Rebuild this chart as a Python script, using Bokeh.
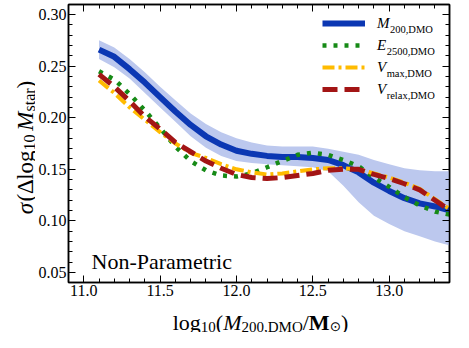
import math
from bokeh.plotting import figure
from bokeh.layouts import row, column
from bokeh.models import (Label, Legend, LegendItem, LinearAxis, Range1d,
                          SingleIntervalTicker, PrintfTickFormatter, CustomJSTickFormatter)
from bokeh.embed import file_html
from bokeh.resources import INLINE

# ---------------- data ----------------
x_mass = [11.1, 11.2, 11.3, 11.4, 11.5, 11.6, 11.7, 11.8, 11.9, 12.0, 12.1, 12.2,
          12.3, 12.4, 12.5, 12.6, 12.7, 12.8, 12.9, 13.0, 13.1, 13.2, 13.3, 13.4]

sigma_m200 = [0.266, 0.259, 0.247, 0.234, 0.220, 0.206, 0.193, 0.182, 0.174, 0.168, 0.165, 0.163,
              0.162, 0.162, 0.161, 0.159, 0.154, 0.147, 0.137, 0.129, 0.122, 0.117, 0.114, 0.110]
m200_upper = [0.275, 0.268, 0.257, 0.244, 0.230, 0.217, 0.204, 0.194, 0.186, 0.180, 0.176, 0.173,
              0.172, 0.172, 0.172, 0.170, 0.167, 0.164, 0.159, 0.155, 0.151, 0.149, 0.148, 0.148]
m200_lower = [0.257, 0.249, 0.238, 0.224, 0.210, 0.196, 0.182, 0.171, 0.163, 0.158, 0.156, 0.155,
              0.154, 0.153, 0.152, 0.148, 0.134, 0.118, 0.105, 0.097, 0.090, 0.085, 0.080, 0.076]
sigma_e2500 = [0.245, 0.237, 0.223, 0.207, 0.190, 0.172, 0.158, 0.149, 0.144, 0.143, 0.146, 0.152,
               0.158, 0.164, 0.166, 0.164, 0.159, 0.153, 0.142, 0.133, 0.123, 0.115, 0.109, 0.106]
sigma_vmax = [0.236, 0.224, 0.210, 0.198, 0.186, 0.175, 0.166, 0.161, 0.155, 0.150, 0.147, 0.145,
              0.146, 0.148, 0.150, 0.151, 0.151, 0.150, 0.146, 0.142, 0.137, 0.131, 0.121, 0.111]
sigma_vrelax = [0.242, 0.230, 0.216, 0.201, 0.189, 0.176, 0.167, 0.158, 0.151, 0.145, 0.142, 0.141,
                0.142, 0.144, 0.146, 0.149, 0.150, 0.150, 0.145, 0.141, 0.136, 0.130, 0.120, 0.110]

legend_main = ["M", "E", "V", "V"]
legend_sub = ["200,DMO", "2500,DMO", "max,DMO", "relax,DMO"]
panel_text = "Non-Parametric"

# ---------------- layout ----------------
YW = 35                      # width of the y-label strip
W, H = 418, 302              # main figure
ML, MR, MT, MB = 30, 4, 4, 20
FW = W - ML - MR             # 384
FH = H - MT - MB             # 278
XH = 30                      # height of the x-label strip
TOT_H = H + XH
IMG_FRAME_TOP = 12           # frame top in the picture (page margin 8 + MT)
SERIF = "Liberation Serif"

p = figure(width=W, height=H, x_range=Range1d(10.9, 13.395), y_range=Range1d(0.0403, 0.3097),
           output_backend="svg", toolbar_location=None,
           min_border_left=ML, min_border_right=MR, min_border_top=MT, min_border_bottom=MB)
p.grid.visible = False
p.background_fill_color = "white"
p.border_fill_color = "white"
p.outline_line_color = "black"
p.outline_line_width = 1.5

p.varea(x=x_mass, y1=m200_lower, y2=m200_upper, fill_color="#bcc8ee", fill_alpha=1.0)
r_m = p.line(x_mass, sigma_m200, line_color="#0b37b3", line_width=6)
r_e = p.line(x_mass, sigma_e2500, line_color="#168a16", line_width=4.5, line_dash="4 7")
r_v = p.line(x_mass, sigma_vmax, line_color="#ffbb00", line_width=4, line_dash="12 4 3 4")
r_r = p.line(x_mass, sigma_vrelax, line_color="#a31515", line_width=5, line_dash="15 7")


def style_axis(ax, labels=True):
    ax.axis_line_color = "black"
    ax.axis_line_width = 1.5
    ax.major_tick_in = 7
    ax.major_tick_out = 0
    ax.minor_tick_in = 4
    ax.minor_tick_out = 0
    ax.major_tick_line_color = "black"
    ax.minor_tick_line_color = "black"
    ax.axis_label = None
    if labels:
        ax.major_label_text_font = SERIF
        ax.major_label_text_font_size = "16px"
        ax.major_label_text_color = "black"
    else:
        ax.formatter = CustomJSTickFormatter(code="return ''")
        ax.major_label_standoff = 0


xt = lambda: SingleIntervalTicker(interval=0.5, num_minor_ticks=5)
yt = lambda: SingleIntervalTicker(interval=0.05, num_minor_ticks=5)

bx = p.below[0]
bx.ticker = xt()
bx.formatter = PrintfTickFormatter(format="%.1f")
style_axis(bx)
bx.major_label_standoff = 2
ly = p.left[0]
ly.ticker = yt()
ly.formatter = PrintfTickFormatter(format="%.2f")
style_axis(ly)
ly.major_label_standoff = 2

tx = LinearAxis(ticker=xt())
style_axis(tx, labels=False)
p.add_layout(tx, "above")
ry = LinearAxis(ticker=yt())
style_axis(ry, labels=False)
p.add_layout(ry, "right")

# ---------------- legend (samples from the renderers) ----------------
legend = Legend(items=[LegendItem(label=m, renderers=[r])
                       for m, r in zip(legend_main, (r_m, r_e, r_v, r_r))],
                location=(254, 182), orientation="vertical",
                glyph_width=43, glyph_height=22, label_height=22,
                spacing=0, padding=0, margin=0, label_standoff=12,
                border_line_color=None, background_fill_alpha=0.0,
                label_text_font=SERIF, label_text_font_size="15px",
                label_text_font_style="italic", label_text_color="black")
p.add_layout(legend)

# ---------------- rich text helpers ----------------
REG = {'0': .5, '1': .5, '2': .5, '3': .5, '4': .5, '5': .5, '6': .5, '7': .5, '8': .5, '9': .5,
       '.': .25, ',': .25, '(': .333, ')': .333, '/': .278, 'l': .278, 'o': .5, 'g': .5,
       'D': .722, 'M': .889, 'O': .722, 's': .389, 't': .278, 'a': .444, 'r': .333, 'm': .778,
       'x': .5, 'e': .444, 'Δ': .612, '⊙': .838}
ITA = {'M': .833, 'E': .611, 'V': .611, 'σ': .55}
BLD = {'M': .944}


def twidth(text, size, style):
    table = ITA if style == "italic" else (BLD if style == "bold" else REG)
    return sum(table.get(c, REG.get(c, .5)) for c in text) * size


def rich(fig, parts, x0, y0, vertical=False):
    pos = 0.0
    for part in parts:
        text, size, style, shift = part[:4]
        font = part[4] if len(part) > 4 else SERIF
        extra = part[5] if len(part) > 5 else 0.0
        kw = dict(text=text, x_units="screen", y_units="screen", text_font=font,
                  text_font_size=f"{size}px", text_font_style=style, text_color="black",
                  text_align="left", text_baseline="alphabetic")
        if vertical:
            lab = Label(x=x0 + shift, y=y0 + pos, angle=math.pi / 2, **kw)
        else:
            lab = Label(x=x0 + pos, y=y0 - shift, **kw)
        fig.add_layout(lab)
        pos += twidth(text, size, style) + extra
    return pos


def rich_width(parts):
    return sum(twidth(pt[0], pt[1], pt[2]) + (pt[5] if len(pt) > 5 else 0.0) for pt in parts)


def text_fig(w, h, left=0, right=0, top=0, bottom=0):
    f = figure(width=w, height=h, x_range=Range1d(0, 1), y_range=Range1d(0, 1),
               x_axis_type=None, y_axis_type=None, output_backend="svg",
               toolbar_location=None, min_border_left=left, min_border_right=right,
               min_border_top=top, min_border_bottom=bottom)
    f.outline_line_color = None
    f.background_fill_color = "white"
    f.border_fill_color = "white"
    return f


# legend subscripts (main letters come from the legend itself)
row_centers = [30.7, 52.7, 74.7, 96.7]   # picture px
for mtxt, stxt, yc in zip(legend_main, legend_sub, row_centers):
    base = FH - (yc - IMG_FRAME_TOP) - 4.6
    x_sub = 254 + 43 + 12 + twidth(mtxt, 15, "italic")
    rich(p, [(stxt, 10.5, "normal", 2)], x_sub, base)

# panel annotation
p.add_layout(Label(x=23, y=20.7, x_units="screen", y_units="screen", text=panel_text,
                   text_font=SERIF, text_font_size="22px", text_color="black",
                   text_align="left", text_baseline="alphabetic"))

# x axis label strip: same horizontal borders as the plot, so frames line up
xf = text_fig(W, XH, left=ML, right=MR)
F, S = 22, 15
xparts = [("log", F, "normal", 0), ("10", S, "normal", 4), ("(", F, "normal", 0),
          ("M", F, "italic", 0), ("200,DMO", S, "normal", 4), ("/", F, "normal", 0),
          ("M", F, "bold", 0), ("⊙", 13.5, "normal", 3.5, "DejaVu Sans"), (")", F, "normal", 0)]
rich(xf, xparts, FW / 2 - rich_width(xparts) / 2, 10)

# y axis label strip (rotated): same vertical borders as the plot column
yf = text_fig(YW, TOT_H, top=MT, bottom=MB + XH)
F2, S2 = 23, 16
yparts = [("σ", F2, "italic", 0), ("(", F2, "normal", 0), ("Δ", F2, "normal", 0),
          ("log", F2, "normal", 0), ("10", S2, "normal", 3.5, SERIF, 3.8),
          ("M", F2, "italic", 0), ("star", S2, "normal", 3.5), (")", F2, "normal", 0)]
y_center = 135                      # from the frame bottom (picture y ~155)
rich(yf, yparts, 25.3, y_center - rich_width(yparts) / 2, vertical=True)

layout = row(yf, column(p, xf, spacing=0), spacing=0)
open("out.html", "w").write(file_html(layout, INLINE))
